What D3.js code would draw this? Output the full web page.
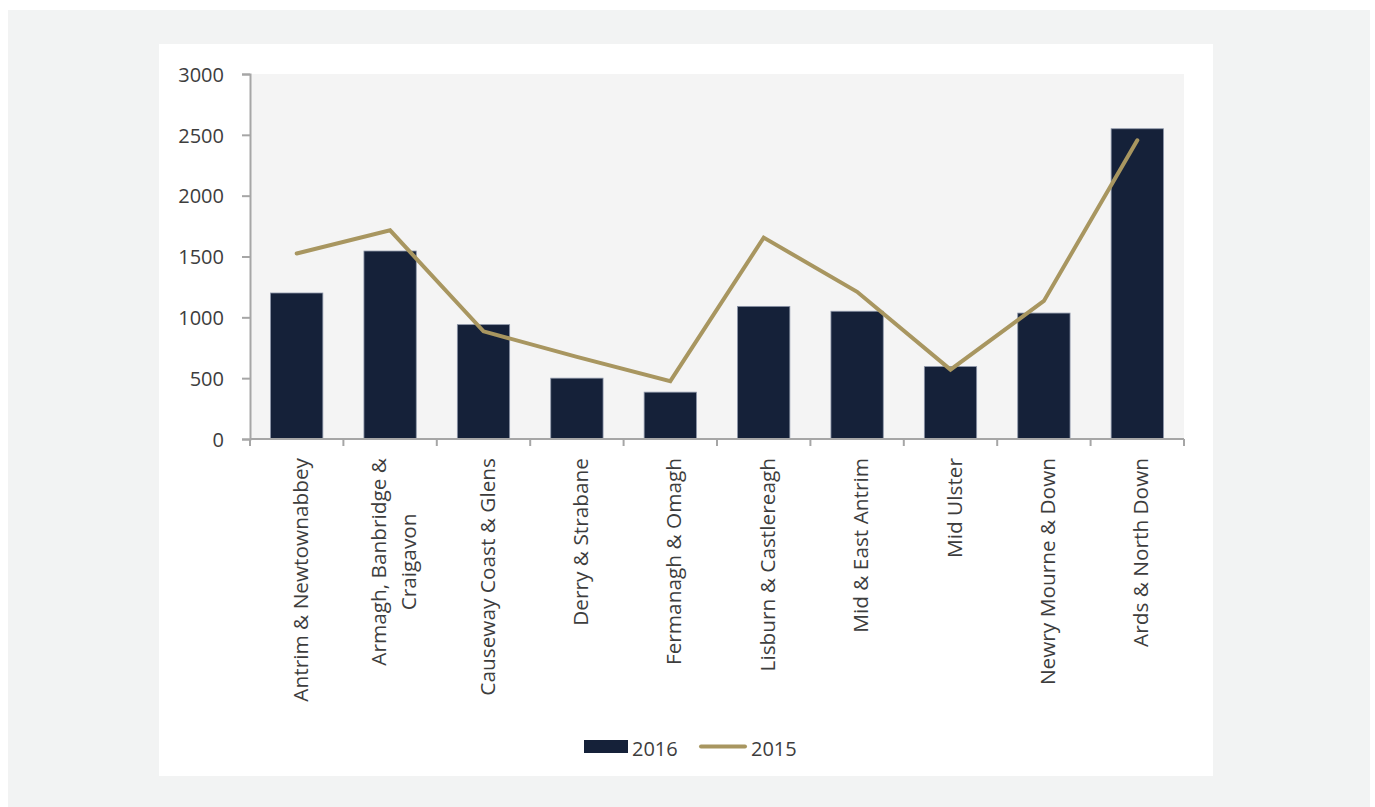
<!DOCTYPE html>
<html>
<head>
<meta charset="utf-8">
<script src="https://cdn.jsdelivr.net/npm/d3@7"></script>
<style>
  html, body { margin: 0; padding: 0; background: #ffffff; }
  svg { display: block; font-family: "Open Sans", "Noto Sans", sans-serif; }
</style>
</head>
<body>
<svg id="chart" width="1375" height="807"></svg>
<script>
const categories = [
  "Antrim & Newtownabbey",
  "Armagh, Banbridge &\nCraigavon",
  "Causeway Coast & Glens",
  "Derry & Strabane",
  "Fermanagh & Omagh",
  "Lisburn & Castlereagh",
  "Mid & East Antrim",
  "Mid Ulster",
  "Newry Mourne & Down",
  "Ards & North Down"
];
const values2016 = [1200, 1545, 940, 500, 385, 1090, 1050, 595, 1035, 2550];
const values2015 = [1525, 1715, 885, 675, 475, 1655, 1210, 570, 1135, 2455];
const yTicks = [0, 500, 1000, 1500, 2000, 2500, 3000];
const seriesNames = ["2016", "2015"];

const svg = d3.select("#chart");
const textColor = "#3d3d3d";
const axisColor = "#a6a6a6";
const barColor = "#152139";
const lineColor = "#a89660";

// backgrounds
svg.append("rect").attr("x", 8).attr("y", 10).attr("width", 1362).attr("height", 797).attr("fill", "#f2f3f3");
svg.append("rect").attr("x", 159).attr("y", 44).attr("width", 1054).attr("height", 732).attr("fill", "#ffffff");

const plot = { left: 250, right: 1184, top: 74, bottom: 439 };
svg.append("rect").attr("x", plot.left).attr("y", plot.top)
  .attr("width", plot.right - plot.left).attr("height", plot.bottom - plot.top).attr("fill", "#f4f4f4");

const x = d3.scaleBand().domain(categories).range([plot.left, plot.right]).paddingInner(0.44).paddingOuter(0.22);
const xb = d3.scaleBand().domain(categories).range([plot.left, plot.right]);
const y = d3.scaleLinear().domain([0, 3000]).range([plot.bottom, plot.top]);

// bars
svg.append("g").selectAll("rect").data(values2016).join("rect")
  .attr("x", (d, i) => x(categories[i]))
  .attr("width", x.bandwidth())
  .attr("y", d => y(d))
  .attr("height", d => y(0) - y(d))
  .attr("fill", barColor)
  .attr("stroke", "#8c95a8")
  .attr("stroke-width", 0.8);

// line
const line = d3.line()
  .x((d, i) => xb(categories[i]) + xb.bandwidth() / 2)
  .y(d => y(d));
svg.append("path").datum(values2015)
  .attr("d", line)
  .attr("fill", "none")
  .attr("stroke", lineColor)
  .attr("stroke-width", 4)
  .attr("stroke-linecap", "round")
  .attr("stroke-linejoin", "miter");

// y axis
const yAxis = svg.append("g").attr("transform", `translate(${plot.left},0)`)
  .call(d3.axisLeft(y).tickValues(yTicks).tickSize(8).tickPadding(18).tickFormat(d3.format("d")));
yAxis.select(".domain").attr("stroke", axisColor).attr("stroke-width", 2);
yAxis.selectAll(".tick line").attr("stroke", axisColor).attr("stroke-width", 2);
yAxis.selectAll(".tick text").attr("fill", textColor).style("font-size", "20px")
  .style("font-family", "'Open Sans', sans-serif").attr("dy", "0.36em");

// x axis (ticks at category boundaries)
const xg = svg.append("g");
xg.append("line").attr("x1", plot.left).attr("x2", plot.right).attr("y1", plot.bottom).attr("y2", plot.bottom)
  .attr("stroke", axisColor).attr("stroke-width", 2);
const bounds = categories.map(c => xb(c)).concat([plot.right]);
xg.selectAll("line.tk").data(bounds).join("line").attr("class", "tk")
  .attr("x1", d => d).attr("x2", d => d).attr("y1", plot.bottom).attr("y2", plot.bottom + 7)
  .attr("stroke", axisColor).attr("stroke-width", 2);

// x labels rotated
const labelTop = 458;
const lineSpacing = 30;
categories.forEach((c, i) => {
  const cx = xb(c) + xb.bandwidth() / 2;
  const lines = c.split("\n");
  const g = svg.append("g");
  const texts = lines.map((t, j) => g.append("text")
    .text(t)
    .attr("fill", textColor)
    .style("font-size", "20.8px"));
  const maxW = d3.max(texts, t => t.node().getComputedTextLength());
  const n = lines.length;
  texts.forEach((t, j) => {
    const bx = cx + 11 + (j - (n - 1) / 2) * lineSpacing;
    const midY = labelTop + maxW / 2;
    t.attr("text-anchor", "middle")
     .attr("transform", `translate(${bx},${midY}) rotate(-90)`);
  });
});

// legend
const lg = svg.append("g");
lg.append("rect").attr("x", 584).attr("y", 740).attr("width", 44).attr("height", 13).attr("fill", barColor);
lg.append("text").attr("x", 632).attr("y", 756).text(seriesNames[0]).attr("fill", textColor).style("font-size", "20px");
lg.append("line").attr("x1", 701).attr("x2", 745).attr("y1", 746.5).attr("y2", 746.5)
  .attr("stroke", lineColor).attr("stroke-width", 4).attr("stroke-linecap", "round");
lg.append("text").attr("x", 751).attr("y", 756).text(seriesNames[1]).attr("fill", textColor).style("font-size", "20px");
</script>
</body>
</html>
